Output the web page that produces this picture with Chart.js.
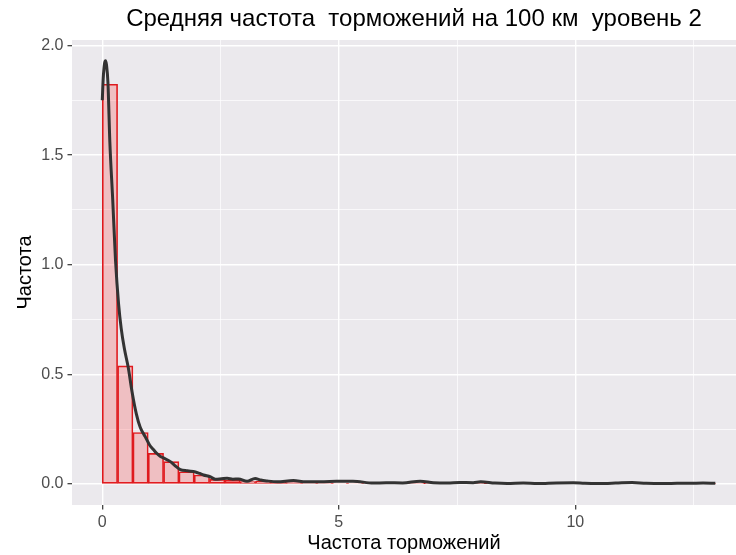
<!DOCTYPE html>
<html>
<head>
<meta charset="utf-8">
<script src="https://cdn.jsdelivr.net/npm/chart.js@4.4.1/dist/chart.umd.min.js"></script>
<style>
  html, body { margin: 0; padding: 0; background: #ffffff; }
  canvas { display: block; }
</style>
</head>
<body>
<canvas id="c" width="736" height="555"></canvas>
<script>
// Texts
const titleText = 'Средняя частота  торможений на 100 км  уровень 2';
const xTitle = 'Частота торможений';
const yTitle = 'Частота';

// Histogram: bin centres and density per bin
const binCenters = [0.162, 0.486, 0.810, 1.134, 1.458, 1.782, 2.106, 2.430, 2.754, 3.078,
                    3.402, 3.726, 4.050, 4.374, 4.698, 5.022, 5.346, 5.670, 5.994, 6.318,
                    6.642, 6.966, 7.290, 7.614, 7.938, 8.262, 8.586, 8.910, 9.234, 9.558,
                    9.882, 10.206, 10.530, 10.854, 11.178, 11.502, 11.826, 12.150, 12.474, 12.798];
const binDensity = [1.823, 0.539, 0.235, 0.140, 0.102, 0.056, 0.041, 0.021, 0.018, 0.011,
                    0.012, 0.008, 0.006, 0.005, 0.005, 0.003, 0.003, 0.003, 0.002, 0.004,
                    0.004, 0.002, 0.002, 0.001, 0.002, 0.001, 0.001, 0.002, 0.001, 0.001,
                    0.001, 0.001, 0.001, 0.001, 0.000, 0.001, 0.000, 0.001, 0.000, 0.001];

// Kernel density estimate
const densX = [0.00, 0.02, 0.05, 0.07, 0.09, 0.12, 0.16, 0.22, 0.28, 0.345,
               0.40, 0.465, 0.55, 0.63, 0.72, 0.80, 0.91, 1.00, 1.085, 1.15,
               1.23, 1.31, 1.44, 1.53, 1.65, 1.80, 1.97, 2.06, 2.14, 2.28,
               2.39, 2.52, 2.64, 2.76, 2.88, 3.06, 3.23, 3.35, 3.48, 3.70,
               4.04, 4.30, 4.60, 4.95, 5.30, 5.73, 6.00, 6.35, 6.72, 7.00,
               7.30, 7.55, 7.84, 8.00, 8.30, 8.56, 8.90, 9.20, 9.60, 9.96,
               10.20, 10.50, 10.85, 11.20, 11.50, 11.90, 12.15, 12.40, 12.70, 12.96];
const densY = [1.75, 1.85, 1.92, 1.93, 1.91, 1.83, 1.56, 1.30, 1.02, 0.82,
               0.71, 0.62, 0.53, 0.42, 0.32, 0.26, 0.215, 0.178, 0.156, 0.140,
               0.125, 0.117, 0.102, 0.085, 0.066, 0.060, 0.055, 0.048, 0.041, 0.033,
               0.022, 0.024, 0.026, 0.022, 0.023, 0.012, 0.025, 0.018, 0.014, 0.010,
               0.016, 0.010, 0.010, 0.012, 0.013, 0.004, 0.006, 0.005, 0.013, 0.006,
               0.004, 0.007, 0.006, 0.010, 0.004, 0.002, 0.004, 0.002, 0.005, 0.006,
               0.003, 0.002, 0.004, 0.007, 0.003, 0.002, 0.003, 0.003, 0.004, 0.003];

// Axis ticks (major ones carry labels, the rest are minor grid lines)
const xTicks = [0, 2.5, 5, 7.5, 10, 12.5];
const xLabelled = [0, 5, 10];
const yTicks = [0, 0.25, 0.5, 0.75, 1, 1.25, 1.5, 1.75, 2];
const yLabelled = [0, 0.5, 1, 1.5, 2];

const FONT = '"Liberation Sans", Arial, Helvetica, sans-serif';

// Grey panel behind the plot and the centred main title
const panelPlugin = {
  id: 'panel',
  beforeDraw(chart) {
    const { ctx, chartArea: a } = chart;
    ctx.save();
    ctx.fillStyle = '#ffffff';
    ctx.fillRect(0, 0, chart.width, chart.height);
    ctx.fillStyle = '#EBE9ED';
    ctx.fillRect(a.left, a.top, a.right - a.left, a.bottom - a.top);
    ctx.restore();
  },
  afterDraw(chart) {
    const { ctx, chartArea: a } = chart;
    ctx.save();
    ctx.font = '24px ' + FONT;
    ctx.fillStyle = '#000000';
    ctx.textAlign = 'center';
    ctx.textBaseline = 'middle';
    ctx.fillText(titleText, (a.left + a.right) / 2 + 10, 19);
    ctx.restore();
  }
};

function gridFor(labelled) {
  return {
    color: '#ffffff',
    lineWidth: (c) => (c.tick && labelled.includes(c.tick.value)) ? 1.4 : 0.7,
    tickColor: (c) => (c.tick && labelled.includes(c.tick.value)) ? '#333333' : 'rgba(0,0,0,0)',
    tickLength: 4.5,
    tickWidth: 1.2,
    drawTicks: true,
    offset: false
  };
}

new Chart(document.getElementById('c'), {
  type: 'bar',
  data: {
    datasets: [
      {
        type: 'bar',
        data: binCenters.map((x, i) => ({ x: x, y: binDensity[i] })),
        backgroundColor: 'rgba(255, 40, 40, 0.22)',
        borderColor: '#DD1A1E',
        borderWidth: 1,
        borderSkipped: false,
        barPercentage: 1,
        categoryPercentage: 1,
        grouped: false,
        order: 2
      },
      {
        type: 'line',
        data: densX.map((x, i) => ({ x: x, y: densY[i] })),
        borderColor: '#333333',
        borderWidth: 3,
        pointRadius: 0,
        fill: false,
        cubicInterpolationMode: 'monotone',
        order: 1
      }
    ]
  },
  options: {
    responsive: false,
    devicePixelRatio: 1,
    animation: false,
    layout: { padding: { top: 40, left: 0, right: 0, bottom: 0 } },
    plugins: {
      legend: { display: false },
      tooltip: { enabled: false },
      title: { display: false }
    },
    scales: {
      x: {
        type: 'linear',
        min: -0.64,
        max: 13.397,
        offset: false,
        afterFit(s) { s.height = 50; },
        afterBuildTicks(s) { s.ticks = xTicks.map(v => ({ value: v })); },
        grid: gridFor(xLabelled),
        border: { display: false },
        ticks: {
          autoSkip: false,
          maxRotation: 0,
          padding: 3,
          color: '#4D4D4D',
          font: { size: 16, family: FONT },
          callback: (v) => xLabelled.includes(v) ? String(v) : ''
        },
        title: {
          display: true,
          text: xTitle,
          color: '#000000',
          font: { size: 20, family: FONT },
          padding: { top: 0, bottom: 0 }
        }
      },
      y: {
        type: 'linear',
        min: -0.0958,
        max: 2.025,
        afterFit(s) { s.width = 72; },
        afterBuildTicks(s) { s.ticks = yTicks.map(v => ({ value: v })); },
        grid: gridFor(yLabelled),
        border: { display: false },
        ticks: {
          autoSkip: false,
          padding: 4,
          color: '#4D4D4D',
          font: { size: 16, family: FONT },
          callback: (v) => yLabelled.includes(v) ? v.toFixed(1) : ''
        },
        title: {
          display: true,
          text: yTitle,
          color: '#000000',
          font: { size: 20, family: FONT },
          padding: { top: 13, bottom: 0 }
        }
      }
    }
  },
  plugins: [panelPlugin]
});
</script>
</body>
</html>
